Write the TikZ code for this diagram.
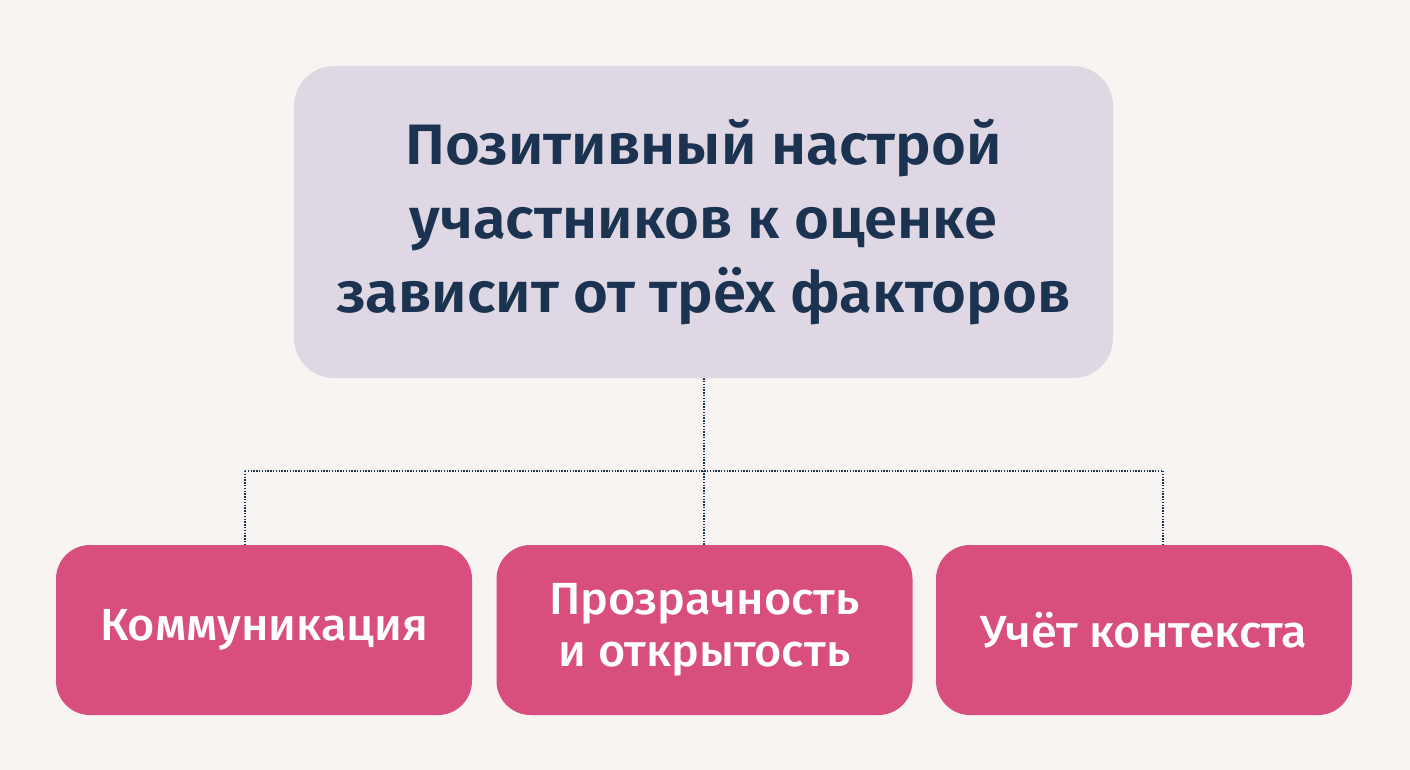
\documentclass[tikz,border=0pt]{standalone}
\usepackage{fontspec}
\setmainfont{Fira Sans}
\newfontfamily\titlefont[FakeStretch=1.05]{Fira Sans SemiBold}
\newfontfamily\boxfont[FakeStretch=1.04]{Fira Sans Medium}
\definecolor{bgc}{HTML}{F8F4F1}
\definecolor{topc}{HTML}{DFD8E4}
\definecolor{navy}{HTML}{1B3350}
\definecolor{pinkc}{HTML}{D84F7F}
\begin{document}
\begin{tikzpicture}[x=1pt,y=-1pt,
  topbox/.style={fill=topc, rounded corners=40pt, minimum width=819pt, minimum height=312pt, inner sep=0pt, text=navy, align=center, font=\titlefont\fontsize{57}{74}\selectfont},
  factor/.style={fill=pinkc, rounded corners=34pt, minimum width=416pt, minimum height=170pt, inner sep=0pt, text=white, align=center, font=\boxfont\fontsize{45}{52}\selectfont},
  link/.style={draw=navy, line width=1.3pt, dash pattern=on 1.4pt off 1.4pt}]
\fill[bgc] (0,0) rectangle (1410,770);
\useasboundingbox (0,0) rectangle (1410,770);
\node[topbox] (top) at (703.5,222) {Позитивный настрой\\участников к оценке\\зависит от трёх факторов};
\node[factor] (f1) at (264,630) {Коммуникация};
\node[factor] (f2) at (704.5,630) {Прозрачность\\и открытость};
\node[factor] (f3) at (1144,630) {Учёт контекста};
\coordinate (j) at (704,471);
\coordinate (jl) at (245,471);
\coordinate (jr) at (1163,471);
\draw[link] (top.south -| j) -- (j) -- (f2.north -| j);
\draw[link] (jl) -- (jr);
\draw[link] (jl) -- (f1.north -| jl);
\draw[link] (jr) -- (f3.north -| jr);
\end{tikzpicture}
\end{document}
